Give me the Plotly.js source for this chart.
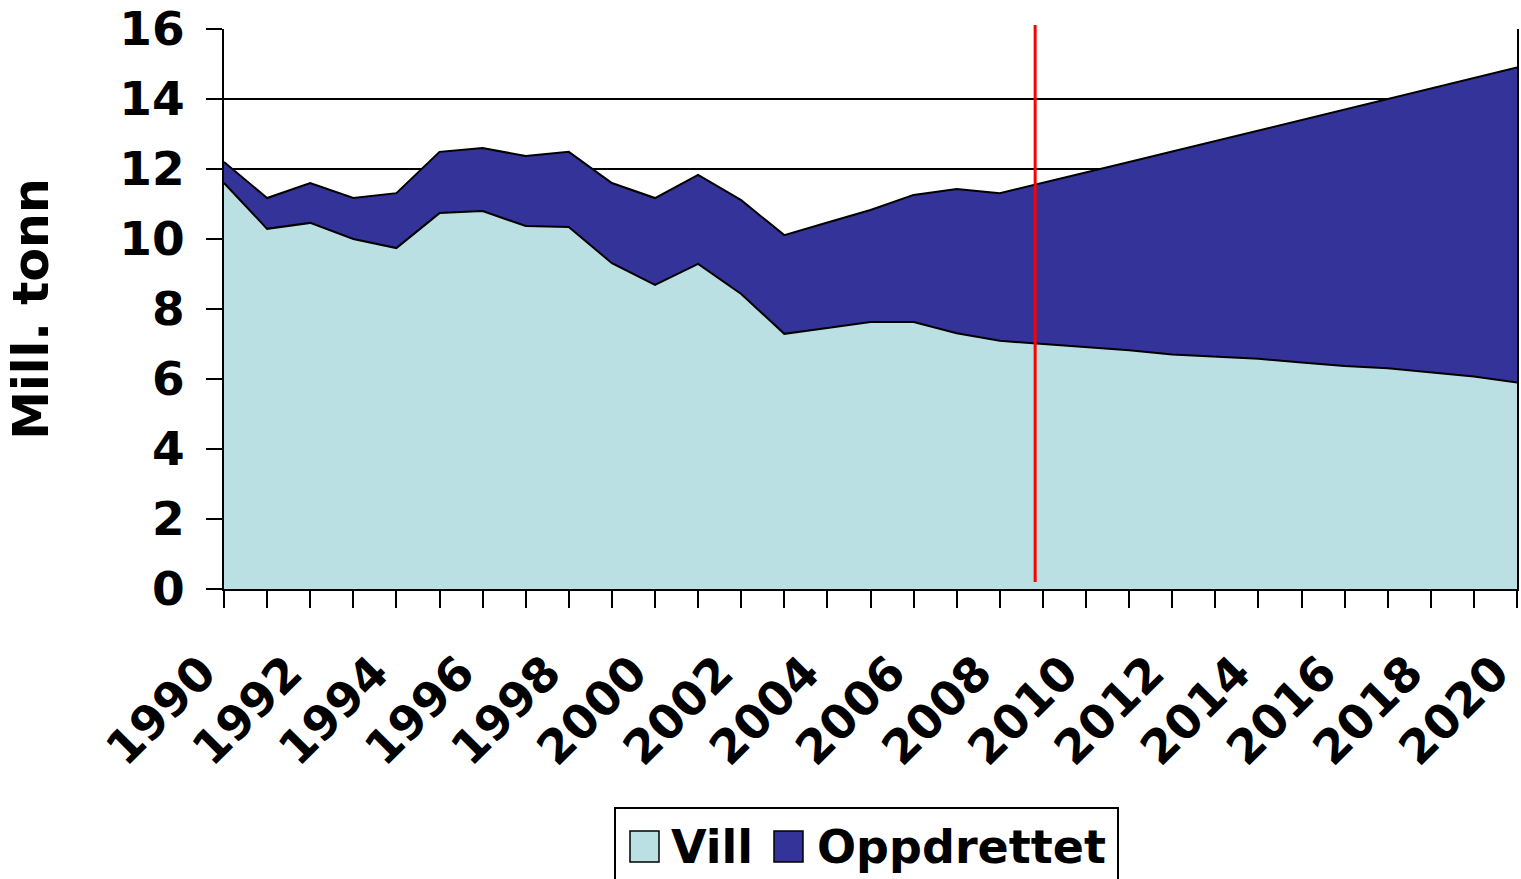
<!DOCTYPE html>
<html>
<head>
<meta charset="utf-8">
<script src="https://cdn.plot.ly/plotly-3.0.1.min.js"></script>
<style>
  html, body { margin: 0; padding: 0; background: #ffffff; }
  #chart { width: 1521px; height: 879px; }
</style>
</head>
<body>
<div id="chart"></div>
<script>
// ---- Data (million tonnes) ----
const years = [1990, 1991, 1992, 1993, 1994, 1995, 1996, 1997, 1998, 1999,
               2000, 2001, 2002, 2003, 2004, 2005, 2006, 2007, 2008, 2009,
               2010, 2011, 2012, 2013, 2014, 2015, 2016, 2017, 2018, 2019, 2020];
const vill = [11.60, 10.29, 10.46, 10.00, 9.74, 10.74, 10.80, 10.37, 10.34, 9.31,
              8.69, 9.29, 8.43, 7.29, 7.46, 7.63, 7.63, 7.31, 7.09, 7.00,
              6.92, 6.82, 6.70, 6.63, 6.58, 6.47, 6.37, 6.31, 6.20, 6.07, 5.90];
const oppdrettet = [0.60, 0.88, 1.14, 1.17, 1.57, 1.75, 1.80, 2.00, 2.15, 2.29,
                    2.48, 2.54, 2.68, 2.82, 3.01, 3.20, 3.63, 4.12, 4.22, 4.60,
                    4.98, 5.38, 5.80, 6.17, 6.52, 6.93, 7.33, 7.69, 8.10, 8.53, 9.00];
const seriesNames = ["Vill", "Oppdrettet"];
const seriesColors = ["#BBE0E3", "#333399"];
const yTicks = [0, 2, 4, 6, 8, 10, 12, 14, 16];
const xTickText = years.map(y => (y % 2 === 0 ? String(y) : ""));
const dividerYear = 2008.82;   // red marker line

const FONT = "DejaVu Sans, Verdana, sans-serif";

const traces = [
  {
    x: years, y: vill, name: seriesNames[0], type: "scatter", mode: "lines",
    stackgroup: "one", fillcolor: seriesColors[0],
    line: { color: "#000000", width: 2 }, showlegend: false, hoverinfo: "x+y+name"
  },
  {
    x: years, y: oppdrettet, name: seriesNames[1], type: "scatter", mode: "lines",
    stackgroup: "one", fillcolor: seriesColors[1],
    line: { color: "#000000", width: 2 }, showlegend: false, hoverinfo: "x+y+name"
  }
];

// Custom legend (paper coordinates) – box, swatches, labels
const W = 1521, H = 879, ML = 224, MR = 4, MT = 29, MB = 290;
const pw = W - ML - MR, ph = H - MT - MB;
const px = x => (x - ML) / pw;
const py = y => (H - MB - y) / ph;

const shapes = [
  { type: "line", xref: "x", yref: "paper", x0: dividerYear, x1: dividerYear,
    y0: py(582), y1: py(25), line: { color: "#FF0000", width: 3 }, layer: "above" },
  { type: "rect", xref: "paper", yref: "paper", x0: px(615), x1: px(1118), y0: py(900), y1: py(808),
    line: { color: "#000000", width: 2 }, fillcolor: "rgba(0,0,0,0)" },
  { type: "rect", xref: "paper", yref: "paper", x0: px(630), x1: px(659), y0: py(862), y1: py(831),
    line: { color: "#000000", width: 1.5 }, fillcolor: seriesColors[0] },
  { type: "rect", xref: "paper", yref: "paper", x0: px(774), x1: px(803), y0: py(862), y1: py(831),
    line: { color: "#000000", width: 1.5 }, fillcolor: seriesColors[1] }
];

const annotations = [
  { xref: "paper", yref: "paper", x: px(669), y: py(847), xanchor: "left", yanchor: "middle",
    text: seriesNames[0], showarrow: false, font: { family: FONT, size: 46, color: "#000000", weight: "bold" } },
  { xref: "paper", yref: "paper", x: px(815), y: py(847), xanchor: "left", yanchor: "middle",
    text: seriesNames[1], showarrow: false, font: { family: FONT, size: 46, color: "#000000", weight: "bold" } }
];

const layout = {
  width: W, height: H,
  margin: { l: ML, r: MR, t: MT, b: MB },
  paper_bgcolor: "#ffffff", plot_bgcolor: "#ffffff",
  showlegend: false,
  font: { family: FONT, color: "#000000", weight: "bold" },
  xaxis: {
    type: "linear", range: [1990, 2020],
    tickmode: "array", tickvals: years, ticktext: xTickText,
    tickangle: -45, ticks: "outside", ticklen: 17, tickwidth: 2, tickcolor: "#000000",
    ticklabelstandoff: 18, ticklabelshift: -22, ticklabeloverflow: "allow",
    tickfont: { family: FONT, size: 47, color: "#000000", weight: "bold" },
    showline: true, linecolor: "#000000", linewidth: 2, mirror: false,
    showgrid: false, zeroline: false, fixedrange: true
  },
  yaxis: {
    range: [0, 16], tickmode: "array", tickvals: yTicks,
    ticks: "outside", ticklen: 16, tickwidth: 2, tickcolor: "#000000",
    ticklabelstandoff: 12,
    tickfont: { family: FONT, size: 47, color: "#000000", weight: "bold" },
    showline: true, linecolor: "#000000", linewidth: 2, mirror: true,
    showgrid: true, gridcolor: "#000000", gridwidth: 1.5, zeroline: false,
    title: { text: "Mill. tonn", standoff: 55,
             font: { family: FONT, size: 49, color: "#000000", weight: "bold" } },
    automargin: false, fixedrange: true
  },
  shapes: shapes,
  annotations: annotations
};

Plotly.newPlot("chart", traces, layout, { displayModeBar: false, staticPlot: true });
</script>
</body>
</html>
